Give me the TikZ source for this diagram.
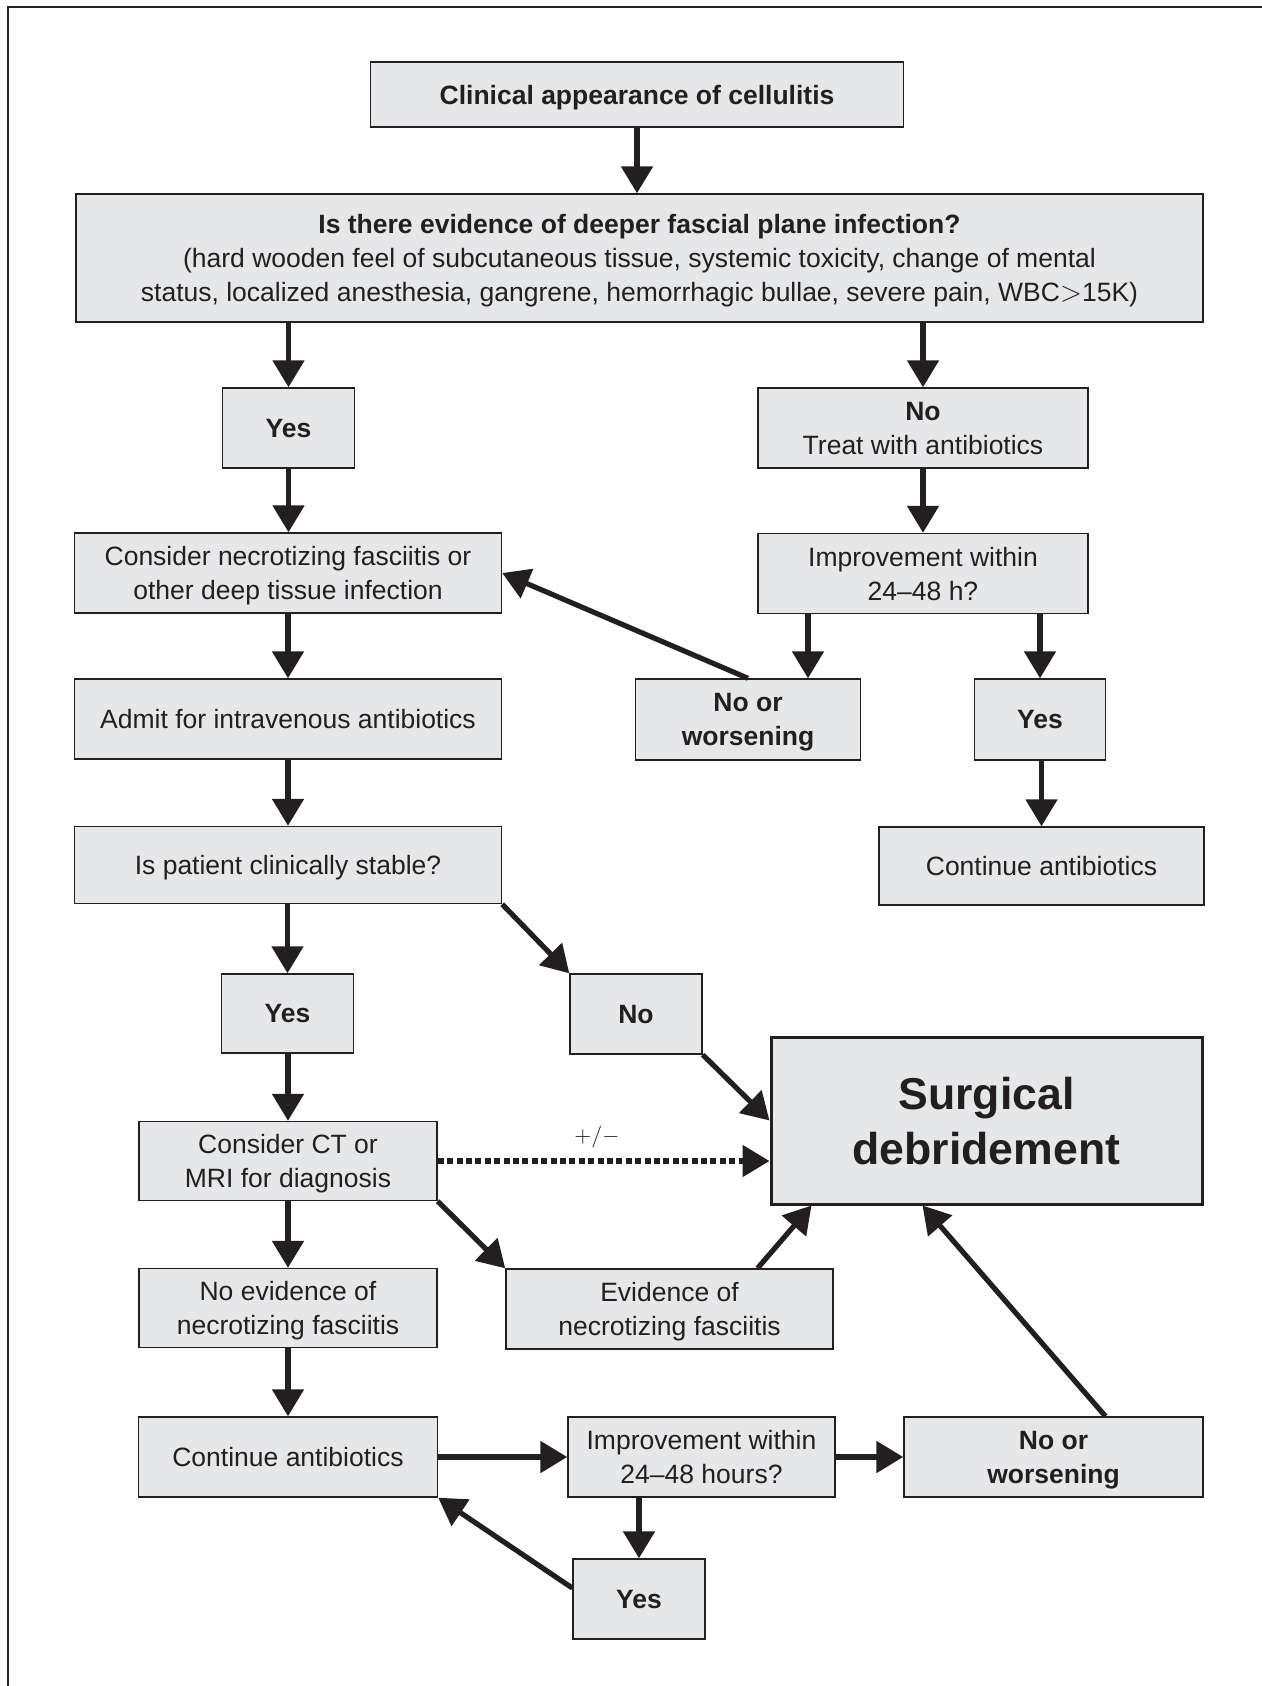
\documentclass[tikz,border=0pt]{standalone}
\usepackage{fontspec}
\setmainfont{Liberation Sans}
\usetikzlibrary{arrows.meta}
\definecolor{ink}{HTML}{231F20}
\definecolor{boxgray}{HTML}{E6E7E8}

\begin{document}
\begin{tikzpicture}[x=0.5pt,y=-0.5pt,
        box/.style={draw=ink,fill=boxgray,line width=0.7pt,text=ink,align=center,
            inner sep=0pt,text depth=0pt,minimum height=40pt,font=\fontsize{13.25}{17}\selectfont},
        arr/.style={ink,line width=2.6pt,-{Triangle[length=13.5pt,width=15.5pt]}}
    ]
        \useasboundingbox (0,0) rectangle (1262,1686);
        \draw[ink,line width=0.9pt] (8,1686) -- (8,7) -- (1262,7);

        \node[box,minimum width=266.5pt,minimum height=32.5pt] (clinical) at (637,94.5)
            {\bfseries Clinical appearance of cellulitis};
        \node[box,minimum width=563.5pt,minimum height=64pt] (deeper) at (639.5,258)
            {\bfseries Is there evidence of deeper fascial plane infection?\\
            (hard wooden feel of subcutaneous tissue, systemic toxicity, change of mental\\
            status, localized anesthesia, gangrene, hemorrhagic bullae, severe pain, WBC$>$15K)};

        \node[box,minimum width=66pt] (yes1) at (288.5,428) {\bfseries Yes};
        \node[box,minimum width=165pt] (no1) at (923,428) {\bfseries No\\Treat with antibiotics};
        \node[box,minimum width=213.5pt] (consider) at (288,573)
            {Consider necrotizing fasciitis or\\other deep tissue infection};
        \node[box,minimum width=165pt] (improve1) at (923,573.5) {Improvement within\\24–48 h?};
        \node[box,minimum width=112.5pt,minimum height=40.5pt] (noworse1) at (748,719.5)
            {\bfseries No or\\\bfseries worsening};
        \node[box,minimum width=65.5pt,minimum height=40.5pt] (yes2) at (1040,719.5) {\bfseries Yes};
        \node[box,minimum width=213.5pt] (admit) at (288,719) {Admit for intravenous antibiotics};
        \node[box,minimum width=162.5pt,minimum height=39pt] (contab1) at (1041.5,866)
            {Continue antibiotics};
        \node[box,minimum width=213.5pt,minimum height=38.5pt] (stable) at (288,865)
            {Is patient clinically stable?};

        \node[box,minimum width=66pt,minimum height=39.5pt] (yes3) at (287.5,1013.5) {\bfseries Yes};
        \node[box,minimum width=66pt] (no3) at (636,1014) {\bfseries No};
        \node[box,line width=1.5pt,minimum width=215.5pt,minimum height=83.5pt,
            font=\fontsize{22.3}{27.5}\selectfont\bfseries] (surgical) at (986.5,1120.5)
            {Surgical\\debridement};
        \node[box,minimum width=149pt,minimum height=39.5pt] (ct) at (288,1161)
            {Consider CT or\\MRI for diagnosis};
        \node[box,minimum width=149pt,minimum height=39.5pt] (noevid) at (288,1308)
            {No evidence of\\necrotizing fasciitis};
        \node[box,minimum width=163.5pt] (evid) at (669.5,1309)
            {Evidence of\\necrotizing fasciitis};

        \node[box,minimum width=149.5pt] (contab2) at (288,1457) {Continue antibiotics};
        \node[box,minimum width=133.5pt] (improve2) at (701.5,1457)
            {Improvement within\\24–48 hours?};
        \node[box,minimum width=149.5pt] (noworse2) at (1053.5,1457)
            {\bfseries No or\\\bfseries worsening};
        \node[box,minimum width=66pt] (yes4) at (639,1599) {\bfseries Yes};

        \path[arr]
            (clinical.south) edge (clinical.south |- deeper.north)

            (deeper.south -| yes1) edge (yes1.north)
            (deeper.south -| no1) edge (no1.north)

            (yes1.south) edge (yes1.south |- consider.north)
            (no1.south) edge (no1.south |- improve1.north)

            ([xshift=30pt]noworse1.north |- improve1.south) edge ([xshift=30pt]noworse1.north)
            (improve1.south -| yes2) edge (yes2.north)
            (noworse1.north) edge (consider.east)

            (consider.south) edge (consider.south |- admit.north)
            (admit.south) edge (admit.south |- stable.north)
            (yes2.south -| contab1) edge (contab1.north)

            (stable.south -| yes3) edge (yes3.north)
            (stable.south east) edge (no3.north west)
            (no3.south east) edge (surgical.west)

            (yes3.south -| ct) edge (ct.north)
            (ct.south east) edge (evid.north west)
            ([xshift=44pt]evid.north) edge ([xshift=21pt]surgical.south west)
            (ct.south) edge (ct.south |- noevid.north)
            (noevid.south) edge (noevid.south |- contab2.north)

            (contab2.east) edge (improve2.west)
            (improve2.east) edge (noworse2.west)
            (yes4.north |- improve2.south) edge (yes4.north)
            ([yshift=5.5pt]yes4.west) edge (contab2.south east)
            ([xshift=26pt]noworse2.north) edge ([xshift=-32pt]surgical.south)
            ;

        \draw[arr,dash pattern=on 3pt off 1.7pt]
            (ct.east) -- (ct.east -| surgical.west)
            node[pos=0.48,yshift=12pt,text=ink,font=\fontsize{11}{13}\selectfont] (pm) {$+/-$}
            ;
\end{tikzpicture}
\end{document}
